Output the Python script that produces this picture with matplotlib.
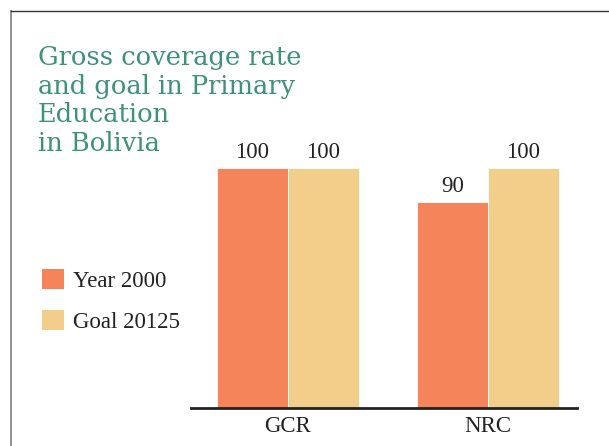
import matplotlib
matplotlib.use('Agg')
import matplotlib.pyplot as plt
import numpy as np
from matplotlib.patches import Patch
from matplotlib.lines import Line2D

# coverage rates per indicator
categories = ['GCR', 'NRC']
year_2000 = [100, 90]
goal_2015 = [100, 100]
series_names = ['Year 2000', 'Goal 20125']
title_lines = ['Gross coverage rate', 'and goal in Primary', 'Education', 'in Bolivia']

orange = '#F5845A'
sand = '#F2CE8A'
teal = '#3E927A'
ink = '#222222'
label_font = ['Liberation Serif', 'DejaVu Serif']

fig = plt.figure(figsize=(6.09, 4.46), dpi=100, facecolor='white')
ax = fig.add_axes([0.3136, 0.0859, 0.6338, 0.6226])

x = np.arange(len(categories))
w = 0.355
b1 = ax.bar(x - w / 2, year_2000, w, color=orange, edgecolor='white', linewidth=0.6)
b2 = ax.bar(x + w / 2, goal_2015, w, color=sand, edgecolor='white', linewidth=0.6)

for bars in (b1, b2):
    ax.bar_label(bars, padding=3.5, fontsize=16.5, color=ink, family=label_font)

ax.set_xlim(-0.485, 1.445)
ax.set_ylim(30, 111)
ax.set_xticks(x)
ax.set_xticklabels(categories, fontsize=16.5, color=ink, family=label_font)
ax.tick_params(axis='x', length=0, pad=6)
ax.set_yticks([])
for side in ('left', 'right', 'top'):
    ax.spines[side].set_visible(False)
ax.spines['bottom'].set_color(ink)
ax.spines['bottom'].set_linewidth(2)

# title, one line at a time
for i, line in enumerate(title_lines):
    fig.text(38 / 609, 1 - (65 + 28.7 * i) / 446, line, ha='left', va='baseline',
             fontsize=18.5, color=teal, family='DejaVu Serif')

# legend on the left
handles = [Patch(facecolor=orange, edgecolor='none'), Patch(facecolor=sand, edgecolor='none')]
fig.legend(handles, series_names, loc='upper left', bbox_to_anchor=(33 / 609, 1 - 260 / 446),
           frameon=False, prop={'family': label_font, 'size': 16.5}, labelcolor=ink,
           handlelength=0.95, handleheight=0.95, handletextpad=0.4, labelspacing=0.78,
           borderaxespad=0)

# frame lines along the top and left edge
fig.add_artist(Line2D([11 / 609, 11 / 609], [0, 1 - 11 / 446], color='#8a8a8a', linewidth=1.3))
fig.add_artist(Line2D([11 / 609, 1], [1 - 11 / 446, 1 - 11 / 446], color='#333333', linewidth=1.0))

fig.savefig('out.png', dpi=100, facecolor='white')
